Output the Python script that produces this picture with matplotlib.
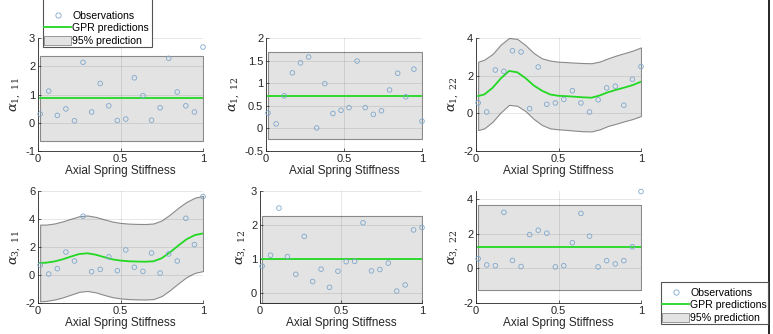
import matplotlib
matplotlib.use("Agg")
import matplotlib.pyplot as plt
from matplotlib.lines import Line2D
from matplotlib.patches import Patch, Rectangle

plt.rcParams['font.family'] = ['Liberation Sans', 'DejaVu Sans']
plt.rcParams['mathtext.fontset'] = 'dejavuserif'

# observation inputs (same for every panel)
obs_x = [0.013, 0.065, 0.117, 0.169, 0.221, 0.273, 0.325, 0.377, 0.429, 0.481,
         0.532, 0.584, 0.636, 0.688, 0.740, 0.792, 0.844, 0.896, 0.948, 1.0]

obs_a1_11 = [0.31, 1.12, 0.26, 0.49, 0.07, 2.14, 0.38, 1.39, 0.60, 0.08,
             0.13, 1.59, 0.96, 0.09, 0.53, 2.28, 1.09, 0.60, 0.38, 2.68]
obs_a1_12 = [0.34, 0.10, 0.72, 1.23, 1.45, 1.58, 0.01, 0.99, 0.33, 0.40,
             0.46, 1.49, 0.46, 0.31, 0.39, 0.85, 1.22, 0.70, 1.31, 0.16]
obs_a1_22 = [0.56, 0.07, 2.30, 2.23, 3.32, 3.26, 0.25, 2.46, 0.48, 0.55,
             0.74, 1.20, 0.55, 0.07, 0.72, 1.35, 1.44, 0.43, 1.81, 2.48]
obs_a3_11 = [0.71, 0.07, 0.45, 1.64, 1.00, 4.20, 0.24, 0.40, 1.29, 0.31,
             1.79, 0.55, 0.26, 1.57, 0.14, 1.50, 1.00, 4.05, 2.17, 5.60]
obs_a3_12 = [0.80, 1.12, 2.50, 1.08, 0.56, 1.67, 0.35, 0.71, 0.18, 0.65,
             0.93, 0.94, 2.07, 0.66, 0.70, 0.89, 0.07, 0.25, 1.86, 1.93]
obs_a3_22 = [0.55, 0.19, 0.15, 3.22, 0.45, 0.10, 1.94, 2.19, 2.02, 0.08,
             0.15, 1.47, 3.16, 1.85, 0.08, 0.44, 0.25, 0.44, 1.24, 4.42]

# GPR prediction inputs
flat_x = [0.013, 1.0]
curve_x = [0.013, 0.05, 0.1, 0.15, 0.2, 0.25, 0.3, 0.35, 0.4, 0.45, 0.5,
           0.55, 0.6, 0.65, 0.7, 0.75, 0.8, 0.85, 0.9, 0.95, 1.0]

mean_a1_11 = [0.86, 0.86]
low_a1_11 = [-0.63, -0.63]
up_a1_11 = [2.37, 2.37]

mean_a1_12 = [0.72, 0.72]
low_a1_12 = [-0.24, -0.24]
up_a1_12 = [1.68, 1.68]

mean_a1_22 = [0.92, 1.00, 1.35, 1.85, 2.25, 2.18, 1.87, 1.48, 1.20, 1.00, 0.93,
              0.91, 0.88, 0.85, 0.83, 0.95, 1.12, 1.25, 1.37, 1.50, 1.68]
up_a1_22 = [2.74, 2.85, 3.15, 3.65, 4.00, 3.95, 3.62, 3.20, 2.92, 2.80, 2.74,
            2.72, 2.69, 2.67, 2.66, 2.75, 2.92, 3.07, 3.20, 3.33, 3.50]
low_a1_22 = [-0.89, -0.80, -0.45, 0.05, 0.45, 0.40, 0.12, -0.30, -0.62, -0.80, -0.85,
             -0.88, -0.92, -0.95, -0.96, -0.85, -0.67, -0.55, -0.42, -0.30, -0.14]

mean_a3_11 = [0.86, 0.88, 0.97, 1.12, 1.32, 1.50, 1.55, 1.45, 1.28, 1.12, 1.03,
              0.98, 0.96, 0.95, 0.98, 1.20, 1.62, 2.10, 2.55, 2.85, 2.97]
up_a3_11 = [3.60, 3.60, 3.68, 3.83, 4.02, 4.20, 4.25, 4.15, 3.98, 3.82, 3.72,
            3.67, 3.65, 3.64, 3.68, 3.90, 4.32, 4.80, 5.22, 5.52, 5.65]
low_a3_11 = [-1.88, -1.85, -1.75, -1.60, -1.40, -1.20, -1.14, -1.24, -1.42, -1.58, -1.67,
             -1.72, -1.74, -1.75, -1.72, -1.50, -1.08, -0.60, -0.15, 0.15, 0.28]

mean_a3_12 = [1.00, 1.00]
low_a3_12 = [-0.28, -0.28]
up_a3_12 = [2.28, 2.28]

mean_a3_22 = [1.22, 1.22]
low_a3_22 = [-1.24, -1.24]
up_a3_22 = [3.66, 3.66]

OBS_C = '#7fa8cc'
GPR_C = '#22d822'
BAND_C = '#e3e3e3'
EDGE_C = '#8a8a8a'

W, H = 773, 334
fig = plt.figure(figsize=(W / 100, H / 100), dpi=100)


def px_axes(left, top, right, bottom):
    return fig.add_axes([left / W, 1 - bottom / H, (right - left) / W, (bottom - top) / H])


panels = [
    # (box, ylabel, obs, px, mean, low, up, ylim, yticks)
    ((38, 38, 203, 151), r'$\alpha_{1,\ 11}$', obs_a1_11, flat_x, mean_a1_11, low_a1_11, up_a1_11,
     (-1, 3), [-1, 0, 1, 2, 3]),
    ((266, 38, 422, 151), r'$\alpha_{1,\ 12}$', obs_a1_12, flat_x, mean_a1_12, low_a1_12, up_a1_12,
     (-0.5, 2), [-0.5, 0, 0.5, 1, 1.5, 2]),
    ((476, 38, 641, 151), r'$\alpha_{1,\ 22}$', obs_a1_22, curve_x, mean_a1_22, low_a1_22, up_a1_22,
     (-2, 4), [-2, 0, 2, 4]),
    ((38, 191, 203, 303), r'$\alpha_{3,\ 11}$', obs_a3_11, curve_x, mean_a3_11, low_a3_11, up_a3_11,
     (-2, 6), [-2, 0, 2, 4, 6]),
    ((260, 191, 422, 303), r'$\alpha_{3,\ 12}$', obs_a3_12, flat_x, mean_a3_12, low_a3_12, up_a3_12,
     (-0.28, 3), [0, 1, 2, 3]),
    ((476, 191, 641, 303), r'$\alpha_{3,\ 22}$', obs_a3_22, flat_x, mean_a3_22, low_a3_22, up_a3_22,
     (-2, 4.45), [-2, 0, 2, 4]),
]

for box, ylab, obs, px, mean, low, up, ylim, yticks in panels:
    ax = px_axes(*box)
    ax.fill_between(px, low, up, facecolor=BAND_C, edgecolor=EDGE_C, linewidth=0.8, zorder=1)
    ax.plot(px, mean, color=GPR_C, linewidth=1.3, zorder=3)
    ax.scatter(obs_x, obs, s=11, facecolors='none', edgecolors=OBS_C, linewidths=0.6,
               zorder=4, clip_on=False)
    ax.set_xlim(0, 1)
    ax.set_ylim(*ylim)
    ax.set_xticks([0, 0.5, 1])
    ax.set_xticklabels(['0', '0.5', '1'])
    ax.set_yticks(yticks)
    ax.set_yticklabels(['%g' % t for t in yticks])
    ax.grid(True, color=(0.15, 0.15, 0.15), alpha=0.13, linewidth=0.6)
    ax.set_axisbelow('line')
    for s in ['top', 'right']:
        ax.spines[s].set_visible(False)
    for s in ['left', 'bottom']:
        ax.spines[s].set_color('#262626')
        ax.spines[s].set_linewidth(0.6)
    ax.tick_params(direction='in', length=2.5, width=0.5, labelsize=8, colors='#262626', pad=2)
    ax.set_xlabel('Axial Spring Stiffness', fontsize=8.5, color='#262626', labelpad=1)
    ax.set_ylabel(ylab, fontsize=9.5, color='#262626', labelpad=2)

handles = [
    Line2D([], [], linestyle='none', marker='o', markersize=3.8, markerfacecolor='none',
           markeredgecolor=OBS_C, markeredgewidth=0.6),
    Line2D([], [], color=GPR_C, linewidth=1.3),
    Patch(facecolor=BAND_C, edgecolor=EDGE_C, linewidth=0.6),
]
labels = ['Observations', 'GPR predictions', '95% prediction']

# legend frames drawn by hand: (left, top, right, bottom) in pixels
for left, top, right, bottom in [(43, -5, 152, 47), (661, 282, 768, 324)]:
    fig.add_artist(Rectangle((left / W, 1 - bottom / H), (right - left) / W, (bottom - top) / H,
                             transform=fig.transFigure, facecolor='white',
                             edgecolor='#555555', linewidth=0.8, zorder=5))
    fig.legend(handles, labels, loc='lower left',
               bbox_to_anchor=((left + 1) / W, 1 - (bottom - 1) / H), fontsize=7.6,
               frameon=False, borderaxespad=0, borderpad=0,
               handlelength=2.6, handleheight=1.05, handletextpad=0.1,
               labelspacing=0.2).set_zorder(6)

fig.add_artist(Line2D([769 / W, 769 / W], [0, 1], color='black', linewidth=1.2))

fig.savefig('out.png', dpi=100)
